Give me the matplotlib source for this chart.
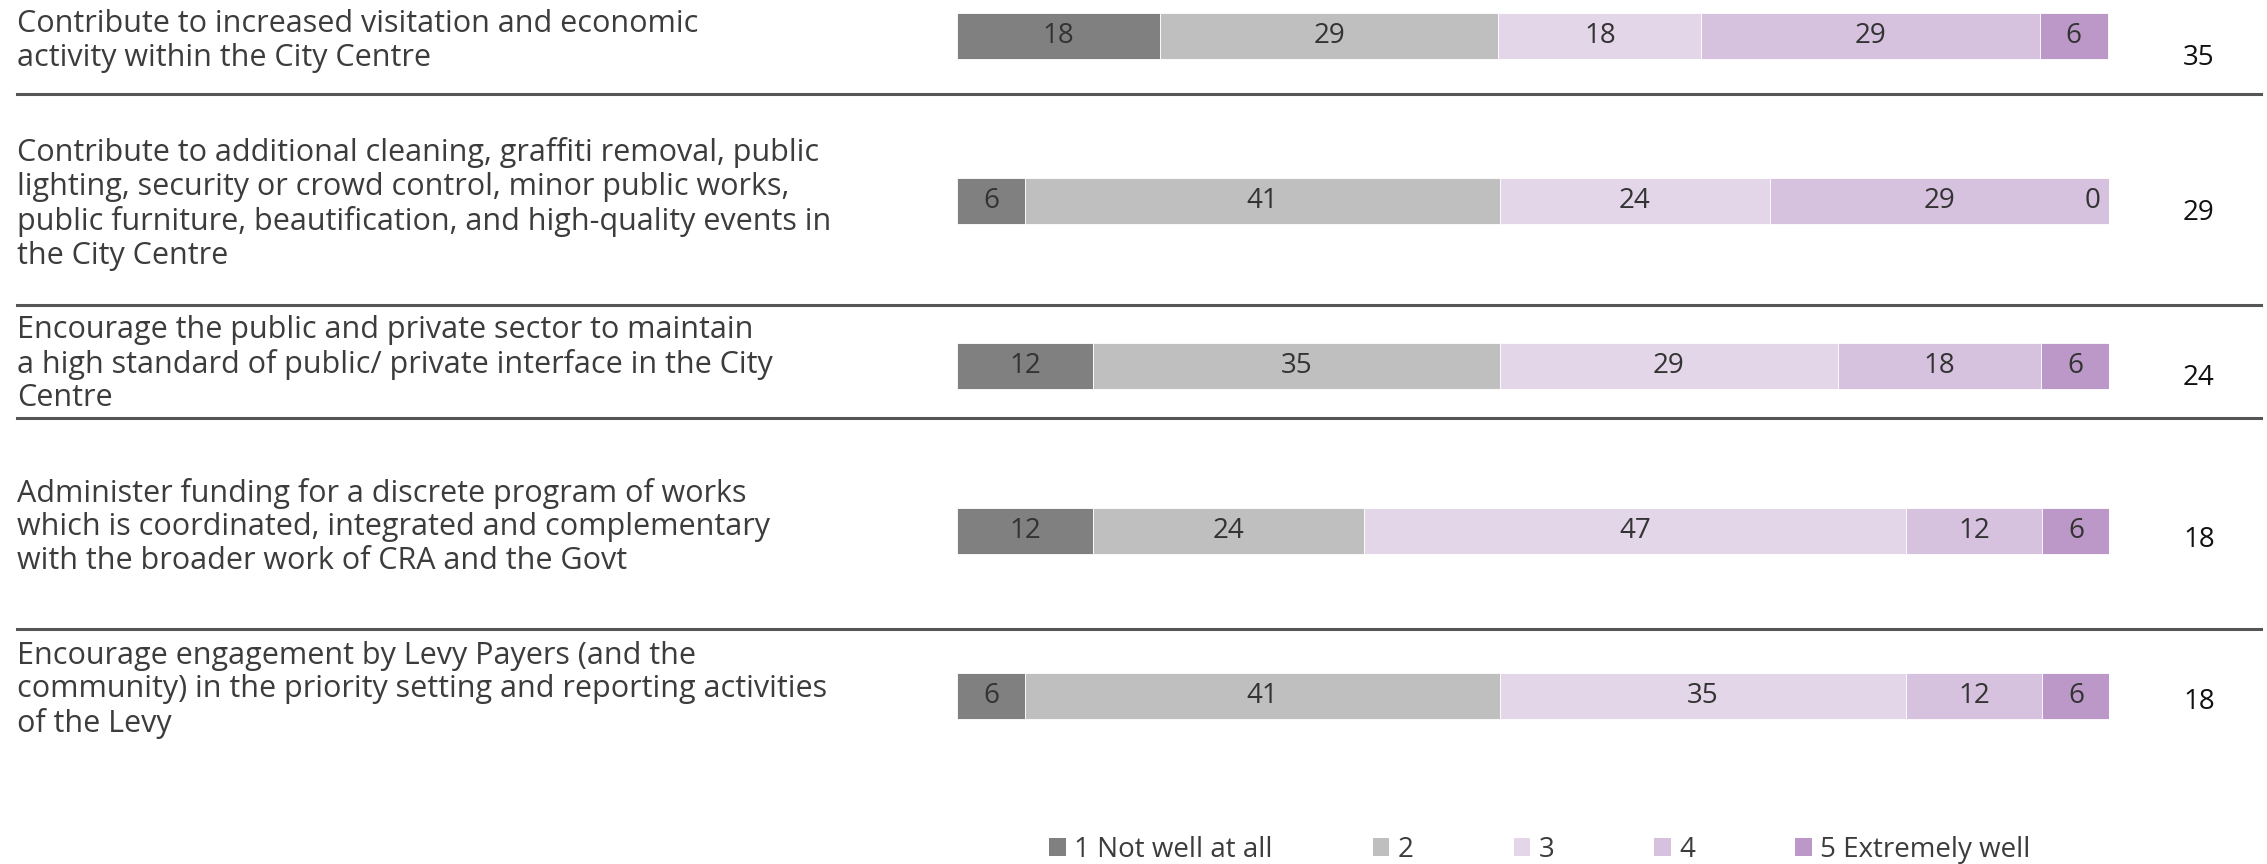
import numpy as np
import matplotlib
matplotlib.use("Agg")
import matplotlib.pyplot as plt
import matplotlib.transforms as mtransforms
from matplotlib.lines import Line2D
from matplotlib.patches import Patch

# ---- data (percent of respondents) ------------------------------------
statements = [
    "Contribute to increased visitation and economic\nactivity within the City Centre",
    "Contribute to additional cleaning, graffiti removal, public\n"
    "lighting, security or crowd control, minor public works,\n"
    "public furniture, beautification, and high-quality events in\n"
    "the City Centre",
    "Encourage the public and private sector to maintain\n"
    "a high standard of public/ private interface in the City\n"
    "Centre",
    "Administer funding for a discrete program of works\n"
    "which is coordinated, integrated and complementary\n"
    "with the broader work of CRA and the Govt",
    "Encourage engagement by Levy Payers (and the\n"
    "community) in the priority setting and reporting activities\n"
    "of the Levy",
]
scale_labels = ["1 Not well at all", "2", "3", "4", "5 Extremely well"]

not_well_at_all = [17.6, 5.9, 11.8, 11.8, 5.9]
rating_2 = [29.4, 41.2, 35.3, 23.5, 41.2]
rating_3 = [17.6, 23.5, 29.4, 47.1, 35.3]
rating_4 = [29.4, 29.4, 17.6, 11.8, 11.8]
extremely_well = [5.9, 0.0, 5.9, 5.9, 5.9]
top_two_box = [35, 29, 24, 18, 18]

levels = [not_well_at_all, rating_2, rating_3, rating_4, extremely_well]
colors = ["#808080", "#bfbfbf", "#e3d6e8", "#d6c2de", "#bb98c7"]

# ---- layout -----------------------------------------------------------
W, H = 2267, 864
plt.rcParams["font.family"] = ["Open Sans", "DejaVu Sans"]
FS = 20
LABEL_FS = 22
TXT = "#3c3c3c"

fig = plt.figure(figsize=(W / 100, H / 100), dpi=100)
fig.patch.set_facecolor("white")

bar_left, bar_right = 957, 2109
row_pitch, first_row = 165, 36
ax = fig.add_axes([bar_left / W, 0, (bar_right - bar_left) / W, 1])
ax.set_xlim(0, 100)
ax.set_ylim((H - first_row) / row_pitch, -first_row / row_pitch)
ax.axis("off")

rows = np.arange(len(statements))
left = np.zeros(len(statements))
for vals, col, name in zip(levels, colors, scale_labels):
    vals = np.asarray(vals, dtype=float)
    ax.barh(rows, vals, left=left, height=46 / row_pitch, color=col,
            edgecolor="white", linewidth=0.6, label=name)
    for yi, l, v in zip(rows, left, vals):
        if v > 0:
            ax.text(l + v / 2, yi, f"{v:.0f}", ha="center", va="center",
                    fontsize=FS, color="#333333")
        else:
            ax.text(l - 0.7, yi, f"{v:.0f}", ha="right", va="center",
                    fontsize=FS, color="#333333")
    left += vals

# statement labels on the left, totals on the right
blend = mtransforms.blended_transform_factory(fig.transFigure, ax.transData)
label_shift = [5, 3, -2, -4, -6]
for yi, text, dy in zip(rows, statements, label_shift):
    ax.text(17 / W, yi + dy / row_pitch, text, transform=blend, ha="left",
            va="center", fontsize=LABEL_FS, color=TXT, linespacing=1.17)

total_shift = [22, 12, 12, 9, 6]
for yi, tot, dy in zip(rows, top_two_box, total_shift):
    ax.text(2199 / W, yi + dy / row_pitch, str(tot), transform=blend,
            ha="center", va="center", fontsize=FS, color="#111111")

# separators between statements
for sy in [94, 305, 418, 629]:
    fig.add_artist(Line2D([17 / W, 2261 / W], [1 - sy / H] * 2,
                          transform=fig.transFigure, color="#555555", lw=2.2))

handles = [Patch(facecolor=c, edgecolor="none", label=n)
           for c, n in zip(colors, scale_labels)]
ax.legend(handles=handles, loc="center", ncol=5, frameon=False,
          bbox_to_anchor=(1540 / W, 1 - 850 / H), bbox_transform=fig.transFigure,
          fontsize=FS, labelcolor=TXT, handlelength=0.6, handleheight=0.6,
          handletextpad=0.3, columnspacing=3.6)

fig.savefig("out.png", dpi=100, facecolor="white")
